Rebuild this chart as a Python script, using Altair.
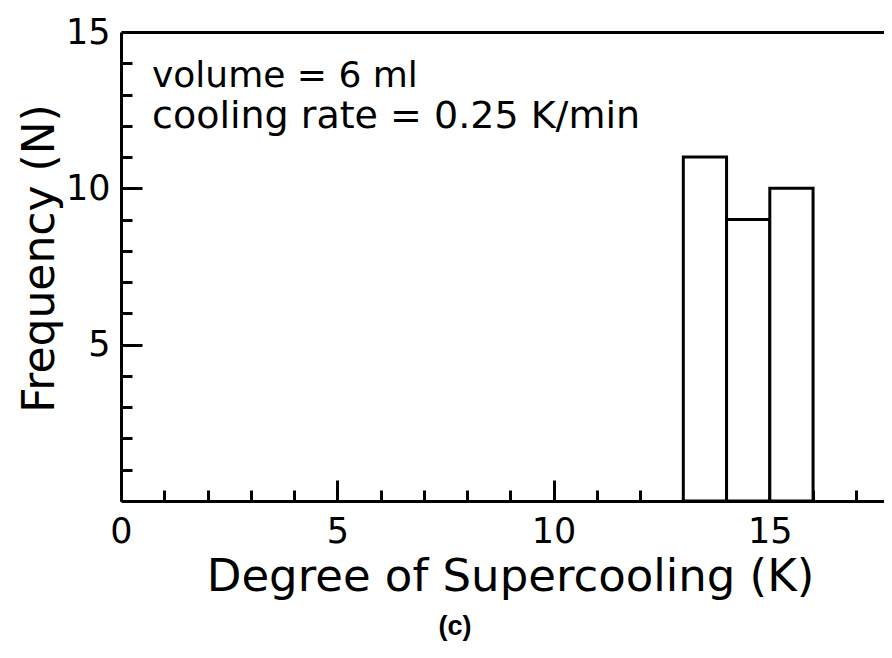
import altair as alt
import pandas as pd

# ---- data ----
bin_start = [13, 14, 15]
bin_end = [14, 15, 16]
counts = [11, 9, 10]

x_major = [0, 5, 10, 15]
x_minor = [1, 2, 3, 4, 6, 7, 8, 9, 11, 12, 13, 14, 16, 17]
y_major = [5, 10, 15]
y_major_ticks = [5, 10]
y_minor = [1, 2, 3, 4, 6, 7, 8, 9, 11, 12, 13, 14]

x_title = "Degree of Supercooling (K)"
y_title = "Frequency (N)"
annotation_lines = ["volume = 6 ml", "cooling rate = 0.25 K/min"]
caption = "(c)"

W, H = 763, 469
FONT = "DejaVu Sans"

df = pd.DataFrame({"start": bin_start, "end": bin_end, "count": counts})

xscale = alt.Scale(domain=[0, 17.64], nice=False, zero=False)
yscale = alt.Scale(domain=[0, 15], nice=False)

bars = alt.Chart(df).mark_bar(fill="white", stroke="black", strokeWidth=3).encode(
    x=alt.X("start:Q", scale=xscale,
            axis=alt.Axis(orient="bottom", values=x_major, ticks=False, tickSize=0,
                          labelPadding=13, labelFlush=False, labelFontSize=35,
                          domainWidth=3, grid=False, title=x_title,
                          titleFontSize=45, titleFontWeight="normal",
                          titleX=389, titleY=89, titleBaseline="alphabetic",
                          titleAlign="center")),
    x2="end",
    y=alt.Y("count:Q", scale=yscale,
            axis=alt.Axis(orient="left", values=y_major, ticks=False, tickSize=0,
                          labelPadding=11, labelFontSize=35, labelFlush=False,
                          domainWidth=3, grid=False, title=y_title,
                          titleFontSize=44, titleFontWeight="normal",
                          titleX=-68, titleY=226, titleAngle=270,
                          titleBaseline="alphabetic", titleAlign="center")),
    y2=alt.datum(0),
)


def tick_layer(xv, yv, size):
    return alt.Chart(df).mark_point(opacity=0).encode(
        x=alt.X("start:Q", scale=xscale,
                axis=alt.Axis(orient="top", offset=-H, values=xv, labels=False,
                              domain=False, tickSize=size, tickWidth=3,
                              grid=False, title="")),
        y=alt.Y("count:Q", scale=yscale,
                axis=alt.Axis(orient="right", offset=-W, values=yv, labels=False,
                              domain=False, tickSize=size, tickWidth=3,
                              grid=False, title="")),
    )


minor = tick_layer(x_minor, y_minor, 11)
major = tick_layer(x_major, y_major_ticks, 21)

border = alt.Chart(df).mark_point(opacity=0).encode(
    x=alt.X("start:Q", scale=xscale,
            axis=alt.Axis(orient="top", values=x_major, labels=False, ticks=False,
                          domain=True, domainWidth=3, grid=False, title="")),
    y=alt.Y("count:Q", scale=yscale, axis=None),
)

ann1 = alt.Chart(pd.DataFrame({"t": [annotation_lines[0]]})).mark_text(
    align="left", baseline="alphabetic", fontSize=36, font=FONT, color="black"
).encode(x=alt.value(31), y=alt.value(55), text="t:N")

ann2 = alt.Chart(pd.DataFrame({"t": [annotation_lines[1]]})).mark_text(
    align="left", baseline="alphabetic", fontSize=38, font=FONT, color="black"
).encode(x=alt.value(31), y=alt.value(96), text="t:N")

cap = alt.Chart(pd.DataFrame({"t": [caption]})).mark_text(
    align="center", baseline="alphabetic", fontSize=27, font="Liberation Sans",
    fontWeight="bold", color="black"
).encode(x=alt.value(334), y=alt.value(603), text="t:N")

chart = alt.layer(bars, minor, major, border, ann1, ann2, cap).resolve_axis(
    x="independent", y="independent"
).properties(
    width=W, height=H,
    padding={"left": 113, "top": 24, "right": 0, "bottom": 144},
    autosize=alt.AutoSizeParams(type="none"),
).configure_view(stroke=None).configure_axis(
    labelFont=FONT, titleFont=FONT, labelColor="black", titleColor="black",
    domainColor="black", tickColor="black"
)

chart.save("out.html", embed_options={"renderer": "svg", "actions": False})
